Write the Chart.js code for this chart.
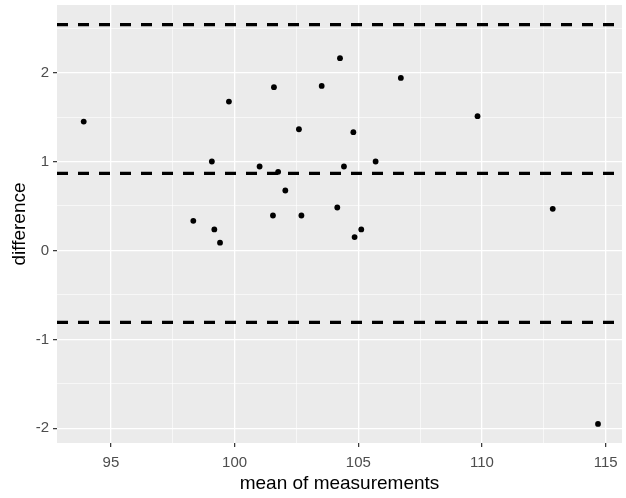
<!DOCTYPE html>
<html>
<head>
<meta charset="utf-8">
<script src="https://cdn.jsdelivr.net/npm/chart.js@4/dist/chart.umd.min.js"></script>
<style>
  html, body { margin: 0; padding: 0; background: #ffffff; }
  canvas { display: block; }
</style>
</head>
<body>
<canvas id="c" width="626" height="498"></canvas>
<script>
// Data (Bland-Altman plot)
const meanOfMeasurements = [93.90, 99.77, 101.59, 102.60, 99.08, 101.01, 101.76, 102.05, 101.55, 102.70,
  98.33, 99.18, 99.41, 104.26, 103.52, 106.72, 109.82, 104.80, 104.42, 105.70,
  104.15, 112.86, 105.12, 104.85, 114.69];
const difference = [1.449, 1.674, 1.836, 1.363, 1.000, 0.944, 0.884, 0.674, 0.393, 0.393,
  0.333, 0.236, 0.087, 2.162, 1.850, 1.940, 1.510, 1.330, 0.944, 1.000,
  0.483, 0.468, 0.236, 0.150, -1.950];
const meanDiff = 0.866;
const upperLimit = 2.54;
const lowerLimit = -0.808;
const xTickLabels = [95, 100, 105, 110, 115];
const yTickLabels = [-2, -1, 0, 1, 2];
const xRange = [92.82, 115.66];
const yRange = [-2.165, 2.76];

function withMinor(major, lo, hi) {
  const step = major[1] - major[0];
  const out = [];
  for (let v = major[0] - step; v <= major[major.length - 1] + step + 1e-9; v += step / 2) {
    const r = Math.round(v * 1000) / 1000;
    if (r >= lo && r <= hi) out.push(r);
  }
  return out;
}
const isMajor = (v, major) => major.some(m => Math.abs(m - v) < 1e-6);

const panelBg = {
  id: 'panelBg',
  beforeDraw(chart) {
    const { ctx, chartArea: a } = chart;
    ctx.save();
    ctx.fillStyle = '#EBEBEB';
    ctx.fillRect(a.left, a.top, a.right - a.left, a.bottom - a.top);
    ctx.restore();
  }
};

const hline = (y) => ({
  type: 'line',
  data: [{ x: xRange[0], y: y }, { x: xRange[1], y: y }],
  borderColor: '#000000',
  borderWidth: 3.2,
  borderDash: [11, 10],
  pointRadius: 0,
  fill: false,
  order: 0
});

const points = meanOfMeasurements.map((x, i) => ({ x: x, y: difference[i] }));

new Chart(document.getElementById('c'), {
  type: 'scatter',
  data: {
    datasets: [
      {
        data: points,
        backgroundColor: '#000000',
        borderWidth: 0,
        pointRadius: 2.9,
        order: 1
      },
      hline(upperLimit),
      hline(meanDiff),
      hline(lowerLimit)
    ]
  },
  plugins: [panelBg],
  options: {
    responsive: false,
    animation: false,
    layout: { padding: { left: 0, top: 5, right: 3, bottom: 0 } },
    plugins: { legend: { display: false }, tooltip: { enabled: false } },
    scales: {
      x: {
        type: 'linear',
        min: xRange[0],
        max: xRange[1],
        afterBuildTicks: (s) => { s.ticks = withMinor(xTickLabels, xRange[0], xRange[1]).map(v => ({ value: v })); },
        afterFit: (s) => { s.height = 55; s.paddingLeft = 0; s.paddingRight = 0; s.paddingTop = 0; s.paddingBottom = 0; },
        border: { display: false },
        grid: {
          color: '#FFFFFF',
          lineWidth: (c) => isMajor(c.tick.value, xTickLabels) ? 1.3 : 0.6,
          tickColor: (c) => isMajor(c.tick.value, xTickLabels) ? '#333333' : 'rgba(0,0,0,0)',
          tickLength: 4,
          tickWidth: 1.2
        },
        ticks: {
          autoSkip: false,
          maxRotation: 0,
          padding: 7,
          color: '#4D4D4D',
          font: { family: 'Liberation Sans, Arial, sans-serif', size: 15 },
          callback: (v) => isMajor(v, xTickLabels) ? String(v) : ''
        },
        title: {
          display: true,
          text: 'mean of measurements',
          color: '#000000',
          font: { family: 'Liberation Sans, Arial, sans-serif', size: 19 },
          padding: { top: 0, bottom: 3 }
        }
      },
      y: {
        type: 'linear',
        min: yRange[0],
        max: yRange[1],
        afterBuildTicks: (s) => { s.ticks = withMinor(yTickLabels, yRange[0], yRange[1]).map(v => ({ value: v })); },
        afterFit: (s) => { s.width = 57; s.paddingLeft = 0; s.paddingRight = 0; s.paddingTop = 0; s.paddingBottom = 0; },
        border: { display: false },
        grid: {
          color: '#FFFFFF',
          lineWidth: (c) => isMajor(c.tick.value, yTickLabels) ? 1.3 : 0.6,
          tickColor: (c) => isMajor(c.tick.value, yTickLabels) ? '#333333' : 'rgba(0,0,0,0)',
          tickLength: 4,
          tickWidth: 1.2
        },
        ticks: {
          autoSkip: false,
          padding: 4,
          color: '#4D4D4D',
          font: { family: 'Liberation Sans, Arial, sans-serif', size: 15 },
          callback: (v) => isMajor(v, yTickLabels) ? String(v) : ''
        },
        title: {
          display: true,
          text: 'difference',
          color: '#000000',
          font: { family: 'Liberation Sans, Arial, sans-serif', size: 19 },
          padding: { top: 8, bottom: 0 }
        }
      }
    }
  }
});
</script>
</body>
</html>
